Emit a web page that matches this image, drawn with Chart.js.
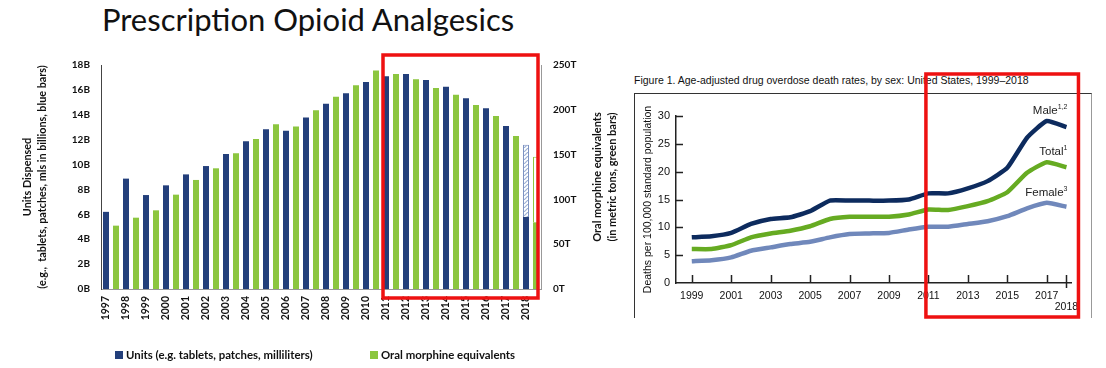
<!DOCTYPE html>
<html>
<head>
<meta charset="utf-8">
<script src="https://cdn.jsdelivr.net/npm/chart.js@4.4.1/dist/chart.umd.min.js"></script>
<style>
  html, body { margin: 0; padding: 0; background: #fff; }
  body { width: 1106px; height: 368px; position: relative; overflow: hidden; }
  #leftWrap { position: absolute; left: 0; top: 0; width: 620px; height: 368px; }
  #rightWrap { position: absolute; left: 600px; top: 60px; width: 506px; height: 308px; }
  #title { position: absolute; left: 52px; top: 0px; width: 512px; text-align: center;
           font: 31px Lato, sans-serif; color: #111; white-space: nowrap; }
  #frame { position: absolute; left: 634px; top: 93px; width: 456px; height: 224px;
           border: 1px solid #333; border-bottom: none; border-right-color: #999; }
  #figTitle { position: absolute; left: 634px; top: 74px; font: 10.5px "Liberation Sans", Arial, sans-serif;
              color: #111; white-space: nowrap; }
  .lg { position: absolute; top: 348px; font: bold 11.4px Lato, sans-serif; color: #111; white-space: nowrap; }
  .lg i { display: inline-block; width: 8px; height: 8px; margin-right: 3px; }
</style>
</head>
<body>
<div id="title">Prescription Opioid Analgesics</div>
<div id="frame"></div>
<div id="figTitle">Figure 1. Age-adjusted drug overdose death rates, by sex: United States, 1999–2018</div>
<div id="leftWrap"><canvas id="rxChart"></canvas></div>
<div id="rightWrap"><canvas id="odChart"></canvas></div>
<div class="lg" style="left:115px"><i style="background:#233f7b"></i>Units (e.g. tablets, patches, milliliters)</div>
<div class="lg" style="left:370px"><i style="background:#8cc63f"></i>Oral morphine equivalents</div>

<script>
// ---- left chart: prescription opioids dispensed ----
const years = ['1997', '1998', '1999', '2000', '2001', '2002', '2003', '2004', '2005', '2006', '2007',
               '2008', '2009', '2010', '2011', '2012', '2013', '2014', '2015', '2016', '2017', '2018'];
// billions of units (2018 solid part = actual so far)
const unitsB = [6.2, 8.87, 7.55, 8.33, 9.21, 9.88, 10.85, 11.87, 12.83, 12.72, 13.79,
                14.89, 15.72, 16.63, 17.09, 17.28, 16.79, 16.26, 15.32, 14.52, 13.10, 5.79];
const unitsProjected2018 = 11.6;
// metric tons of oral morphine equivalents
const omeT = [70.7, 79.6, 87.8, 105.3, 121.7, 134.7, 151.4, 167.4, 183.8, 181.5, 199.4,
              214.7, 227.3, 244, 240, 234, 224.3, 216.9, 205.4, 193.1, 170.8, 74.4];
const omeProjected2018 = 147.7;

// ---- right chart: overdose death rates ----
const rateYears = [1999, 2000, 2001, 2002, 2003, 2004, 2005, 2006, 2007, 2008,
                   2009, 2010, 2011, 2012, 2013, 2014, 2015, 2016, 2017, 2018];
const maleRate = [8.2, 8.4, 9.0, 10.6, 11.5, 11.8, 12.9, 14.8, 14.8, 14.8,
                  14.8, 15.0, 16.1, 16.1, 17.0, 18.3, 20.7, 26.1, 29.1, 28.0];
const totalRate = [6.1, 6.1, 6.8, 8.2, 8.9, 9.4, 10.2, 11.5, 11.9, 11.9,
                   11.9, 12.3, 13.2, 13.1, 13.8, 14.7, 16.3, 19.8, 21.7, 20.8];
const femaleRate = [3.9, 4.1, 4.6, 5.8, 6.4, 7.0, 7.4, 8.2, 8.8, 8.9,
                    9.0, 9.6, 10.1, 10.1, 10.6, 11.1, 12.0, 13.4, 14.4, 13.7];
const rateTicks = [1999, 2001, 2003, 2005, 2007, 2009, 2011, 2013, 2015, 2017, 2018];

const BLUE = '#233f7b';
const GREEN = '#8cc63f';
const last = years.length - 1;

function stripes() {
  const c = document.createElement('canvas');
  c.width = 4; c.height = 4;
  const g = c.getContext('2d');
  g.fillStyle = '#ffffff';
  g.fillRect(0, 0, 4, 4);
  g.strokeStyle = '#9fb2d6';
  g.lineWidth = 1.2;
  g.beginPath(); g.moveTo(0, 4); g.lineTo(4, 0); g.stroke();
  return g.createPattern(c, 'repeat');
}

const leftDeco = {
  id: 'leftDeco',
  afterDraw(chart) {
    const { ctx, chartArea: a, scales } = chart;
    // right axis title
    ctx.save();
    ctx.fillStyle = '#111';
    ctx.font = 'bold 11px Lato';
    ctx.textAlign = 'center';
    ctx.textBaseline = 'middle';
    const cy = (a.top + a.bottom) / 2;
    ctx.translate(a.right + 56, cy);
    ctx.rotate(-Math.PI / 2);
    ctx.fillText('Oral morphine equivalents', 0, 0);
    ctx.fillText('(in metric tons, green bars)', 0, 15);
    ctx.restore();
    // red highlight box
    const x = scales.x;
    const step = x.getPixelForValue(1) - x.getPixelForValue(0);
    const l = x.getPixelForValue(years.indexOf('2011')) - step / 2 + 2;
    const r = x.getPixelForValue(last) + step / 2 - 3;
    ctx.save();
    ctx.strokeStyle = '#ee1111';
    ctx.lineWidth = 3.5;
    ctx.strokeRect(l, a.top - 10, r - l, a.bottom - a.top + 19);
    ctx.restore();
  }
};

new Chart(document.getElementById('rxChart'), {
  type: 'bar',
  data: {
    labels: years,
    datasets: [
      { label: 'Units', data: unitsB, backgroundColor: BLUE, yAxisID: 'y', stack: 'u' },
      { label: 'Units projected', data: years.map((y, i) => i === last ? unitsProjected2018 - unitsB[i] : null),
        backgroundColor: stripes(), borderColor: '#7d93c2', borderWidth: 1, yAxisID: 'y', stack: 'u' },
      { label: 'OME', data: omeT, backgroundColor: GREEN, yAxisID: 'y1', stack: 'o' },
      { label: 'OME projected', data: years.map((y, i) => i === last ? omeProjected2018 - omeT[i] : null),
        backgroundColor: '#ffffff', borderColor: GREEN, borderWidth: 1, yAxisID: 'y1', stack: 'o' }
    ]
  },
  options: {
    responsive: true,
    maintainAspectRatio: false,
    animation: false,
    layout: { padding: { top: 65, left: 0, right: 0, bottom: 0 } },
    datasets: { bar: { categoryPercentage: 1.0, barPercentage: 0.6 } },
    plugins: { legend: { display: false }, tooltip: { enabled: false } },
    scales: {
      x: {
        stacked: true,
        grid: { display: false, drawTicks: false },
        border: { color: '#999' },
        ticks: {
          autoSkip: false, minRotation: 90, maxRotation: 90, labelOffset: -5, padding: 7,
          color: '#111', font: { family: 'Lato', weight: 'bold', size: 10.5 }
        },
        afterFit: s => { s.height = 79; }
      },
      y: {
        position: 'left', stacked: true, min: 0, max: 18,
        grid: { display: false, drawTicks: false },
        border: { color: '#444' },
        ticks: { stepSize: 2, padding: 11, color: '#111', font: { family: 'Lato', weight: 'bold', size: 10 },
                 callback: v => v + 'B' },
        title: { display: true, text: ['Units Dispensed', '(e.g.,  tablets, patches, mls in billions, blue bars)'],
                 color: '#111', font: { family: 'Lato', weight: 'bold', size: 10.8, lineHeight: 1.4 },
                 padding: { top: 20, bottom: 0 } },
        afterFit: s => { s.width = 101; }
      },
      y1: {
        position: 'right', stacked: true, min: 0, max: 250,
        grid: { display: false, drawTicks: false },
        border: { color: '#999' },
        ticks: { stepSize: 50, padding: 12, color: '#111', font: { family: 'Lato', weight: 'bold', size: 10 },
                 callback: v => v + 'T' },
        afterFit: s => { s.width = 79; }
      }
    }
  },
  plugins: [leftDeco]
});

// ---- right chart ----
const sup = { Male: '1,2', Total: '1', Female: '3' };
const rightDeco = {
  id: 'rightDeco',
  afterDraw(chart) {
    const { ctx, chartArea: a, scales: { x, y } } = chart;
    ctx.save();
    ctx.strokeStyle = '#222';
    ctx.lineWidth = 1.5;
    ctx.beginPath();
    rateTicks.forEach(t => {
      const px = Math.round(x.getPixelForValue(t)) + 0.5;
      ctx.moveTo(px, a.bottom - 8);
      ctx.lineTo(px, t === 2018 ? a.bottom + 5 : a.bottom);
    });
    for (let v = 5; v <= 30; v += 5) {
      const py = Math.round(y.getPixelForValue(v)) + 0.5;
      ctx.moveTo(a.left, py);
      ctx.lineTo(a.left + 7, py);
    }
    ctx.stroke();
    // series labels above the 2017 peak
    const xr = x.getPixelForValue(2018) + 1;
    chart.data.datasets.forEach(ds => {
      const peak = ds.data[rateYears.indexOf(2017)].y;
      const py = y.getPixelForValue(peak) - 7;
      ctx.fillStyle = '#222';
      ctx.textBaseline = 'alphabetic';
      ctx.textAlign = 'right';
      ctx.font = '7px "Liberation Sans"';
      const sw = ctx.measureText(sup[ds.label]).width;
      ctx.fillText(sup[ds.label], xr, py - 5);
      ctx.font = '11.5px "Liberation Sans"';
      ctx.fillText(ds.label, xr - sw, py);
    });
    // red highlight box
    ctx.strokeStyle = '#ee1111';
    ctx.lineWidth = 3.5;
    const l = x.getPixelForValue(2011) - 2.5;
    const r = x.getPixelForValue(2018) + 12;
    ctx.strokeRect(l, a.top - 42, r - l, a.bottom - a.top + 76);
    ctx.restore();
  }
};

const pts = arr => rateYears.map((yr, i) => ({ x: yr, y: arr[i] }));
new Chart(document.getElementById('odChart'), {
  type: 'line',
  data: {
    datasets: [
      { label: 'Male', data: pts(maleRate), borderColor: '#0d2b5e' },
      { label: 'Total', data: pts(totalRate), borderColor: '#66ab22' },
      { label: 'Female', data: pts(femaleRate), borderColor: '#7088bb' }
    ]
  },
  options: {
    responsive: true,
    maintainAspectRatio: false,
    animation: false,
    layout: { padding: { top: 56, left: 0, right: 35, bottom: 0 } },
    elements: { point: { radius: 0 }, line: { borderWidth: 4.5, tension: 0.15, borderCapStyle: 'butt' } },
    plugins: { legend: { display: false }, tooltip: { enabled: false } },
    scales: {
      x: {
        type: 'linear', min: 1998.2, max: 2018.23,
        afterBuildTicks: s => { s.ticks = rateTicks.map(v => ({ value: v })); },
        grid: { display: false, drawTicks: false },
        border: { color: '#222', width: 1.5 },
        ticks: { autoSkip: false, maxRotation: 0, padding: 8, color: '#111',
                 font: { family: 'Liberation Sans', size: 10.5, lineHeight: 1.05 },
                 callback: v => v === 2018 ? ['', '2018'] : String(v) },
        afterFit: s => { s.height = 85; }
      },
      y: {
        min: 0, max: 30,
        grid: { display: false, drawTicks: false },
        border: { color: '#222', width: 1.5 },
        ticks: { stepSize: 5, padding: 6, color: '#111', font: { family: 'Liberation Sans', size: 11 } },
        title: { display: true, text: 'Deaths per 100,000 standard population', color: '#111',
                 font: { family: 'Liberation Sans', size: 10.5 }, padding: { top: 42, bottom: 0 } },
        afterFit: s => { s.width = 76; }
      }
    }
  },
  plugins: [rightDeco]
});
</script>
</body>
</html>
